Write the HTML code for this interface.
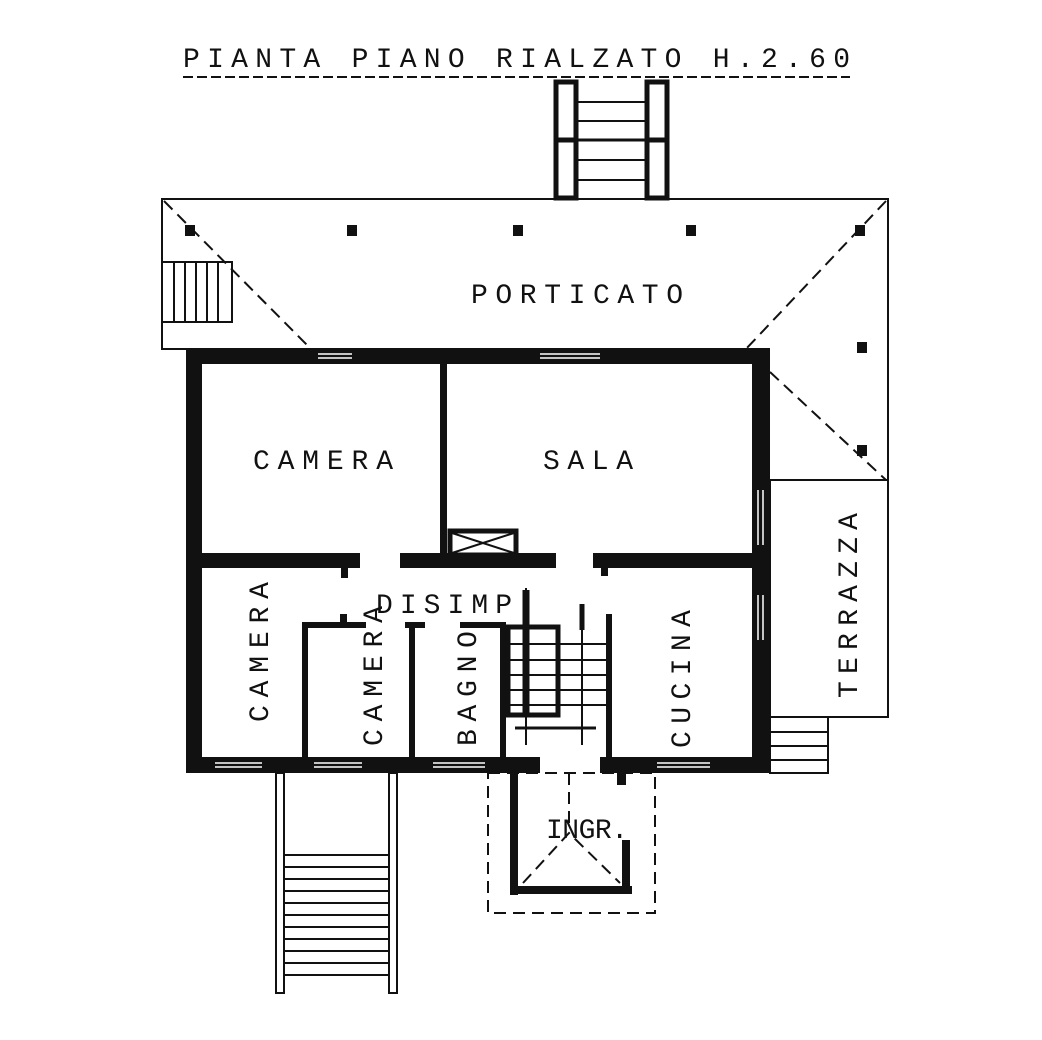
<!DOCTYPE html>
<html><head><style>
html,body{margin:0;padding:0;background:#fff;}
svg{display:block;}
text{font-family:"Liberation Mono","DejaVu Sans Mono",monospace;fill:#111;}
</style></head><body>
<svg width="1042" height="1040" viewBox="0 0 1042 1040" xmlns="http://www.w3.org/2000/svg">
<text x="183" y="67" font-size="28" textLength="667" lengthAdjust="spacing">PIANTA PIANO RIALZATO H.2.60</text>
<line x1="183" y1="77" x2="850" y2="77" stroke="#111" stroke-width="2" stroke-dasharray="10,4"/>

<g fill="none" stroke="#111" stroke-width="3">
<rect x="556" y="82" width="20" height="58" stroke-width="5"/>
<rect x="556" y="140" width="20" height="58" stroke-width="5"/>
<rect x="647" y="82" width="20" height="58" stroke-width="5"/>
<rect x="647" y="140" width="20" height="58" stroke-width="5"/>
<line x1="578" y1="102" x2="645" y2="102" stroke-width="2"/>
<line x1="578" y1="121" x2="645" y2="121" stroke-width="2"/>
<line x1="578" y1="140" x2="645" y2="140" stroke-width="3"/>
<line x1="578" y1="160" x2="645" y2="160" stroke-width="2"/>
<line x1="578" y1="180" x2="645" y2="180" stroke-width="2"/>
</g>

<g fill="none" stroke="#111" stroke-width="2">
<polyline points="186,349 162,349 162,199 888,199 888,480"/>
<rect x="770" y="480" width="118" height="237"/>
<rect x="162" y="262" width="70" height="60"/>
<line x1="174" y1="262" x2="174" y2="322"/>
<line x1="185" y1="262" x2="185" y2="322"/>
<line x1="196" y1="262" x2="196" y2="322"/>
<line x1="207" y1="262" x2="207" y2="322"/>
<line x1="218" y1="262" x2="218" y2="322"/>
</g>
<g stroke="#111" stroke-width="2" stroke-dasharray="12,7" fill="none">
<line x1="164" y1="201" x2="312" y2="350"/>
<line x1="886" y1="201" x2="745" y2="350"/>
<line x1="770" y1="372" x2="886" y2="480"/>
</g>
<g fill="#111">
<rect x="185" y="225" width="10" height="11"/>
<rect x="347" y="225" width="10" height="11"/>
<rect x="513" y="225" width="10" height="11"/>
<rect x="686" y="225" width="10" height="11"/>
<rect x="855" y="225" width="10" height="11"/>
<rect x="857" y="342" width="10" height="11"/>
<rect x="857" y="445" width="10" height="11"/>
</g>

<g fill="#111">
<rect x="186" y="348" width="584" height="16"/>
<rect x="186" y="348" width="16" height="425"/>
<rect x="752" y="348" width="18" height="425"/>
<rect x="186" y="757" width="354" height="16"/>
<rect x="600" y="757" width="170" height="16"/>
<rect x="440" y="364" width="7" height="190"/>
<rect x="202" y="553" width="158" height="15"/>
<rect x="400" y="553" width="156" height="15"/>
<rect x="593" y="553" width="159" height="15"/>
<rect x="341" y="566" width="7" height="12"/>
<rect x="601" y="566" width="7" height="10"/>
<rect x="340" y="614" width="7" height="10"/>
<rect x="302" y="622" width="64" height="6"/>
<rect x="302" y="622" width="6" height="136"/>
<rect x="405" y="622" width="20" height="6"/>
<rect x="409" y="622" width="6" height="136"/>
<rect x="460" y="622" width="46" height="6"/>
<rect x="500" y="622" width="6" height="136"/>
<rect x="606" y="614" width="6" height="144"/>
<rect x="617" y="773" width="9" height="12"/>
</g>
<g stroke="#fff" stroke-width="1.5">
<line x1="318" y1="354" x2="352" y2="354"/><line x1="318" y1="358" x2="352" y2="358"/>
<line x1="540" y1="354" x2="600" y2="354"/><line x1="540" y1="358" x2="600" y2="358"/>
<line x1="215" y1="763" x2="262" y2="763"/><line x1="215" y1="767" x2="262" y2="767"/>
<line x1="314" y1="763" x2="362" y2="763"/><line x1="314" y1="767" x2="362" y2="767"/>
<line x1="433" y1="763" x2="485" y2="763"/><line x1="433" y1="767" x2="485" y2="767"/>
<line x1="657" y1="763" x2="710" y2="763"/><line x1="657" y1="767" x2="710" y2="767"/>
<line x1="758" y1="490" x2="758" y2="545"/><line x1="763" y1="490" x2="763" y2="545"/>
<line x1="758" y1="595" x2="758" y2="640"/><line x1="763" y1="595" x2="763" y2="640"/>
</g>
<g fill="none" stroke="#111">
<rect x="450" y="531" width="66" height="24" stroke-width="5"/>
<line x1="452" y1="533" x2="514" y2="553" stroke-width="2"/>
<line x1="514" y1="533" x2="452" y2="553" stroke-width="2"/>
</g>

<g stroke="#111" fill="none">
<rect x="508" y="627" width="50" height="88" stroke-width="5"/>
<line x1="508" y1="644" x2="606" y2="644" stroke-width="2"/>
<line x1="508" y1="660" x2="606" y2="660" stroke-width="2"/>
<line x1="508" y1="675" x2="606" y2="675" stroke-width="2"/>
<line x1="508" y1="690" x2="606" y2="690" stroke-width="2"/>
<line x1="508" y1="705" x2="606" y2="705" stroke-width="2"/>
<line x1="515" y1="728" x2="596" y2="728" stroke-width="3"/>
<line x1="526" y1="588" x2="526" y2="745" stroke-width="2"/>
<line x1="582" y1="608" x2="582" y2="745" stroke-width="2"/>
<line x1="526" y1="590" x2="526" y2="715" stroke-width="7"/>
<line x1="582" y1="604" x2="582" y2="630" stroke-width="5"/>
</g>

<g fill="none" stroke="#111" stroke-width="2">
<rect x="770" y="717" width="58" height="56"/>
<line x1="770" y1="732" x2="828" y2="732"/>
<line x1="770" y1="746" x2="828" y2="746"/>
<line x1="770" y1="760" x2="828" y2="760"/>
</g>

<g fill="none" stroke="#111" stroke-width="2" stroke-dasharray="12,7">
<rect x="488" y="773" width="167" height="140"/>
<line x1="569" y1="773" x2="569" y2="830"/>
<polyline points="523,883 569,833 620,883"/>
</g>
<g fill="#111">
<rect x="510" y="773" width="8" height="122"/>
<rect x="510" y="886" width="122" height="8"/>
<rect x="622" y="840" width="8" height="54"/>
</g>

<g fill="none" stroke="#111" stroke-width="2">
<rect x="276" y="773" width="8" height="220"/>
<rect x="389" y="773" width="8" height="220"/>
<line x1="284" y1="855" x2="389" y2="855"/>
<line x1="284" y1="867" x2="389" y2="867"/>
<line x1="284" y1="879" x2="389" y2="879"/>
<line x1="284" y1="891" x2="389" y2="891"/>
<line x1="284" y1="903" x2="389" y2="903"/>
<line x1="284" y1="915" x2="389" y2="915"/>
<line x1="284" y1="927" x2="389" y2="927"/>
<line x1="284" y1="939" x2="389" y2="939"/>
<line x1="284" y1="951" x2="389" y2="951"/>
<line x1="284" y1="963" x2="389" y2="963"/>
<line x1="284" y1="975" x2="389" y2="975"/>
</g>

<g font-size="28">
<text x="471" y="303" textLength="212" lengthAdjust="spacing">PORTICATO</text>
<text x="253" y="469" textLength="140" lengthAdjust="spacing">CAMERA</text>
<text x="543" y="469" textLength="90" lengthAdjust="spacing">SALA</text>
<text x="376" y="613" textLength="136" lengthAdjust="spacing">DISIMP</text>
<text x="546" y="838" textLength="82" lengthAdjust="spacing">INGR.</text>
<text transform="translate(268,722) rotate(-90)" textLength="140" lengthAdjust="spacing">CAMERA</text>
<text transform="translate(382,746) rotate(-90)" textLength="140" lengthAdjust="spacing">CAMERA</text>
<text transform="translate(476,746) rotate(-90)" textLength="115" lengthAdjust="spacing">BAGNO</text>
<text transform="translate(690,748) rotate(-90)" textLength="138" lengthAdjust="spacing">CUCINA</text>
<text transform="translate(857,698) rotate(-90)" textLength="185" lengthAdjust="spacing">TERRAZZA</text>
</g>
</svg>
</body></html>
